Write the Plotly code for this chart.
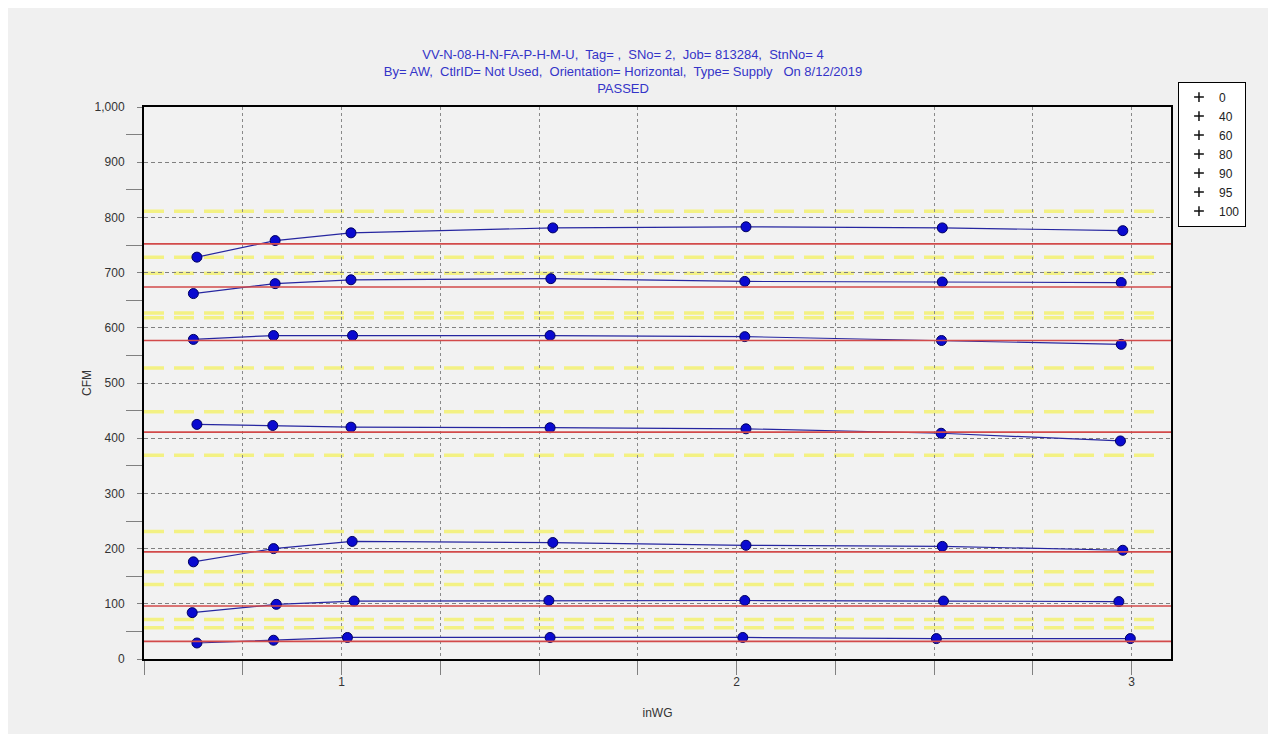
import plotly.graph_objects as go

# ---------------- data ----------------
series_names = ["0", "40", "60", "80", "90", "95", "100"]

x_0 = [0.634, 0.828, 1.015, 1.528, 2.016, 2.506, 2.997]
cfm_0 = [29, 34, 39, 39, 39, 37, 37]
x_40 = [0.622, 0.835, 1.032, 1.525, 2.021, 2.524, 2.968]
cfm_40 = [84, 99, 105, 106, 106, 105, 104]
x_60 = [0.625, 0.828, 1.027, 1.535, 2.024, 2.521, 2.978]
cfm_60 = [176, 200, 213, 211, 206, 204, 197]
x_80 = [0.634, 0.826, 1.024, 1.528, 2.024, 2.518, 2.972]
cfm_80 = [425, 423, 420, 419, 417, 409, 395]
x_90 = [0.625, 0.828, 1.028, 1.528, 2.021, 2.519, 2.974]
cfm_90 = [579, 586, 586, 586, 584, 577, 570]
x_95 = [0.625, 0.832, 1.024, 1.530, 2.021, 2.521, 2.974]
cfm_95 = [662, 680, 687, 689, 684, 683, 682]
x_100 = [0.634, 0.832, 1.024, 1.535, 2.024, 2.521, 2.978]
cfm_100 = [728, 758, 772, 781, 783, 781, 776]

series_x = [x_0, x_40, x_60, x_80, x_90, x_95, x_100]
series_y = [cfm_0, cfm_40, cfm_60, cfm_80, cfm_90, cfm_95, cfm_100]

design_cfm = [32, 96, 194, 411, 577, 674, 752]
tol_upper = [71.5, 135, 231, 448, 627, 728, 811]
tol_lower = [-6, 56.5, 158, 369, 527, 618, 699]

x_range = [0.5, 3.1]
y_range = [0, 1000]
tol_x_end = 3.075

title_lines = [
    "VV-N-08-H-N-FA-P-H-M-U,  Tag= ,  SNo= 2,  Job= 813284,  StnNo= 4",
    "By= AW,  CtlrID= Not Used,  Orientation= Horizontal,  Type= Supply   On 8/12/2019",
    "PASSED",
]

FONT = "Liberation Sans, Arial, sans-serif"

fig = go.Figure()

# tolerance (yellow dashed) lines
for v in tol_upper + tol_lower:
    fig.add_shape(type="line", xref="x", yref="y", x0=x_range[0], x1=tol_x_end, y0=v, y1=v,
                  line=dict(color="#f3f184", width=3.5, dash="20px,10px"), layer="below")

# design (red) lines
for v in design_cfm:
    fig.add_shape(type="line", xref="paper", yref="y", x0=0, x1=1, y0=v, y1=v,
                  line=dict(color="#d24a4a", width=1.6), layer="above")

# measured series
for name, xs, ys in zip(series_names, series_x, series_y):
    fig.add_trace(go.Scatter(
        x=xs, y=ys, mode="lines+markers", name=name, showlegend=False,
        line=dict(color="#2626a0", width=1.2),
        marker=dict(symbol="circle", size=10, color="#0a0ad0",
                    line=dict(color="#000060", width=1)),
        hoverinfo="x+y",
    ))

# legend entries
for name in series_names:
    fig.add_trace(go.Scatter(
        x=[None], y=[None], mode="markers", name=name, showlegend=True,
        marker=dict(symbol="cross-thin", size=7, color="#111111",
                    line=dict(color="#111111", width=1.5)),
    ))

fig.update_layout(
    width=1276, height=734,
    margin=dict(l=136, r=113, t=99, b=82.5),
    paper_bgcolor="#f0f0f0",
    plot_bgcolor="#f2f2f2",
    font=dict(family=FONT, size=12, color="#333333"),
    title=dict(text="<br>".join(title_lines), x=0.482, xref="container", xanchor="center",
               y=1 - 51 / 734, yref="container", yanchor="top",
               font=dict(family=FONT, size=13, color="#3434c8")),
    showlegend=True,
    legend=dict(x=1.0068, y=1.046, xanchor="left", yanchor="top",
                bgcolor="#ffffff", bordercolor="#000000", borderwidth=1,
                font=dict(family=FONT, size=12, color="#222222"),
                itemwidth=30, tracegroupgap=0, entrywidth=40),
)

fig.update_xaxes(
    range=x_range, tick0=0, dtick=1, ticks="outside", ticklen=14, tickcolor="#808080",
    tickfont=dict(size=12, color="#333333"), ticklabelstandoff=-3,
    showgrid=True, gridcolor="#8a8a8a", griddash="dot", gridwidth=1,
    minor=dict(dtick=0.25, tick0=0, ticks="outside", ticklen=14, tickcolor="#808080",
               showgrid=True, gridcolor="#8a8a8a", griddash="dot", gridwidth=1),
    showline=True, linecolor="#000000", linewidth=2, mirror=True,
    zeroline=False,
    title=dict(text="inWG", font=dict(size=12, color="#333333"), standoff=20),
)

fig.update_yaxes(
    range=y_range, tick0=0, dtick=100, tickformat=",d", ticks="outside", ticklen=5,
    tickcolor="#808080", ticklabelstandoff=10,
    tickfont=dict(size=12, color="#333333"),
    showgrid=True, gridcolor="#808080", griddash="4px,3px", gridwidth=1,
    minor=dict(dtick=50, tick0=0, ticks="outside", ticklen=16, tickcolor="#808080",
               showgrid=False),
    showline=True, linecolor="#000000", linewidth=2, mirror=True,
    zeroline=False,
    title=dict(text="CFM", font=dict(size=12, color="#333333"), standoff=0),
)

fig.write_html("out.html", config={"displayModeBar": False})
